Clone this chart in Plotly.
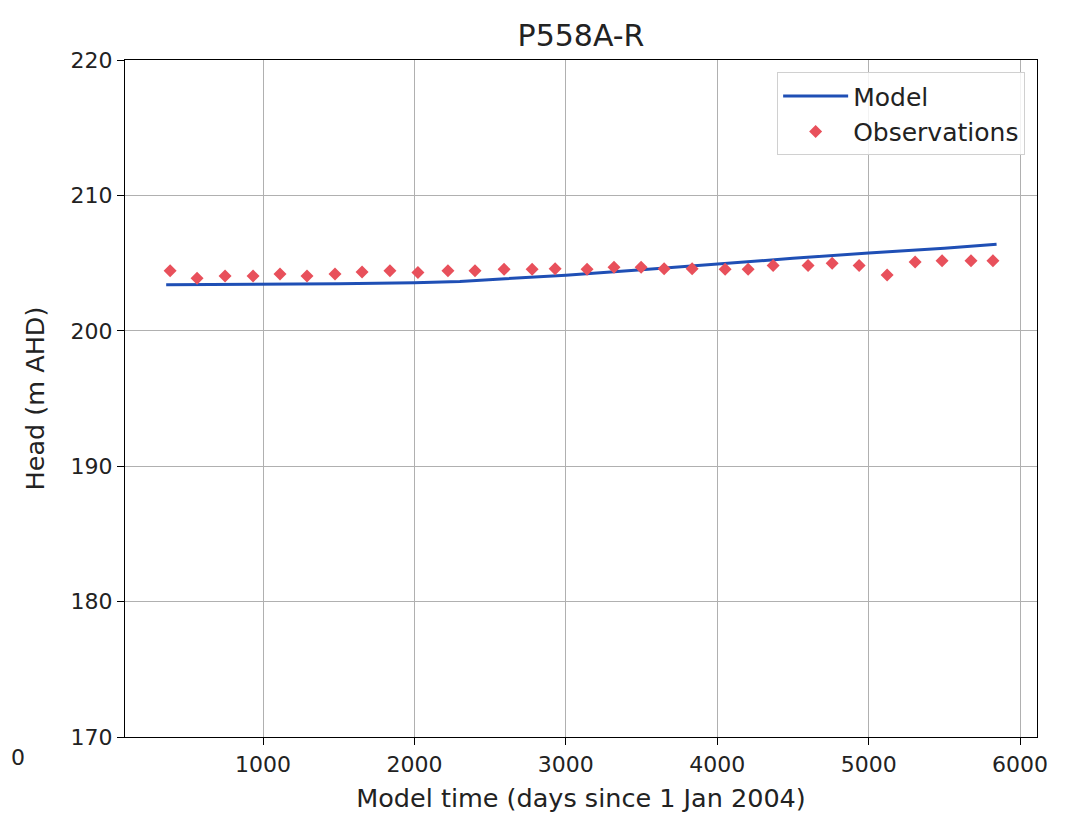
import plotly.graph_objects as go

# Model simulated head
model_days = [360, 1000, 1500, 2000, 2300, 2600, 3000, 3500, 4000, 4500, 5000, 5500, 5845]
model_head = [203.40, 203.42, 203.48, 203.55, 203.65, 203.85, 204.10, 204.50, 204.95, 205.35, 205.75, 206.10, 206.40]

# Observed head
obs_days = [386, 564, 749, 934, 1112, 1290, 1475, 1654, 1838, 2023, 2221, 2400, 2592, 2777, 2929,
            3140, 3318, 3497, 3649, 3834, 4052, 4204, 4369, 4600, 4759, 4937, 5122, 5307, 5485, 5676, 5821]
obs_head = [204.44, 203.88, 204.05, 204.05, 204.20, 204.05, 204.20, 204.34, 204.44, 204.30, 204.44, 204.44,
            204.54, 204.54, 204.59,
            204.54, 204.69, 204.69, 204.59, 204.59, 204.54, 204.54, 204.83, 204.83, 204.98, 204.83, 204.12,
            205.08, 205.18, 205.18, 205.18]

x_ticks = [1000, 2000, 3000, 4000, 5000, 6000]
y_ticks = [170, 180, 190, 200, 210, 220]

font = "DejaVu Sans"
fs_tick = 22
fs_label = 25.5

fig = go.Figure()
fig.add_trace(go.Scatter(x=model_days, y=model_head, mode="lines", name="Model",
                         line=dict(color="#1f4fb5", width=3)))
fig.add_trace(go.Scatter(x=obs_days, y=obs_head, mode="markers", name="Observations",
                         marker=dict(symbol="diamond", size=10, color="#e8505b")))

axis_common = dict(showline=True, linecolor="black", linewidth=1.3, mirror=True,
                   ticks="outside", ticklen=7, tickcolor="black", tickwidth=1.2,
                   showgrid=True, gridcolor="#b0b0b0", gridwidth=1, zeroline=False,
                   tickfont=dict(family=font, size=fs_tick, color="#222"))

fig.update_layout(
    width=1073, height=824,
    margin=dict(l=117, r=44, t=52, b=95),
    paper_bgcolor="white", plot_bgcolor="white",
    title=dict(text="P558A-R", xref="paper", x=0.5, xanchor="center", y=0.967, yanchor="middle",
               font=dict(family=font, size=30, color="#222")),
    xaxis=dict(range=[88, 6112], tickvals=x_ticks,
               title=dict(text="Model time (days since 1 Jan 2004)", standoff=13,
                          font=dict(family=font, size=fs_label, color="#222")),
               **axis_common),
    yaxis=dict(range=[170, 220], tickvals=y_ticks,
               title=dict(text="Head (m AHD)", standoff=18,
                          font=dict(family=font, size=fs_label, color="#222")),
               **axis_common),
    legend=dict(x=0.987, y=0.982, xanchor="right", yanchor="top",
                bgcolor="rgba(255,255,255,0.85)", bordercolor="#d0d0d0", borderwidth=1,
                font=dict(family=font, size=25, color="#222"), itemwidth=65,
                tracegroupgap=4),
    showlegend=True,
)

fig.add_annotation(text="0", xref="paper", yref="paper", x=-0.127, y=-0.03,
                   xanchor="left", yanchor="middle", showarrow=False,
                   font=dict(family=font, size=fs_tick, color="#222"))

fig.write_html("out.html")
